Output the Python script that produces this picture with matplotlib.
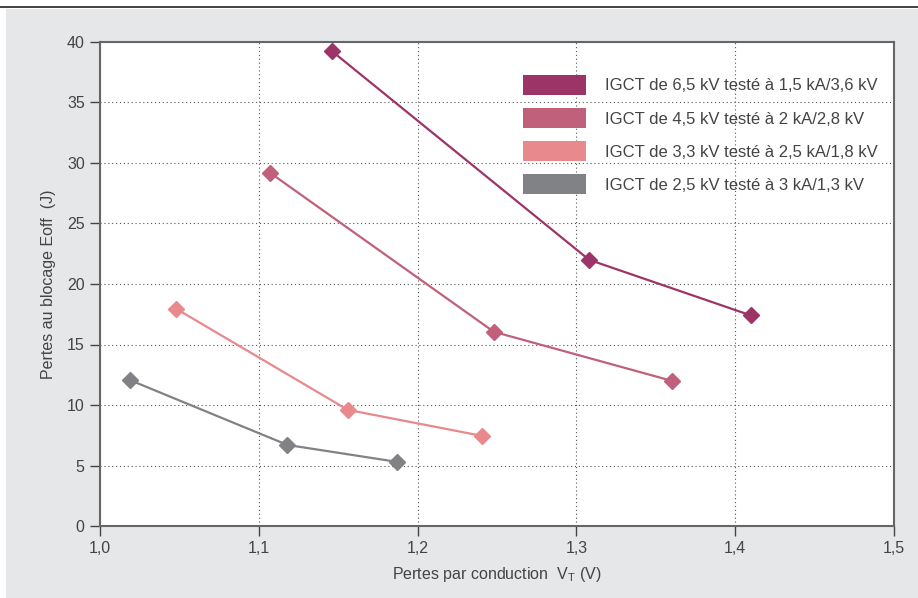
import matplotlib
matplotlib.use("Agg")
import matplotlib.pyplot as plt
from matplotlib.patches import Patch, Rectangle
from matplotlib.lines import Line2D

plt.rcParams['font.family'] = ['Liberation Sans', 'DejaVu Sans']

labels = [
    "IGCT de 6,5 kV testé à 1,5 kA/3,6 kV",
    "IGCT de 4,5 kV testé à 2 kA/2,8 kV",
    "IGCT de 3,3 kV testé à 2,5 kA/1,8 kV",
    "IGCT de 2,5 kV testé à 3 kA/1,3 kV",
]
colors = ["#9c3468", "#c0607a", "#e8898d", "#808285"]

x_65 = [1.146, 1.308, 1.410]
y_65 = [39.25, 22.0, 17.4]
x_45 = [1.107, 1.248, 1.360]
y_45 = [29.2, 16.05, 12.0]
x_33 = [1.048, 1.156, 1.2405]
y_33 = [17.95, 9.6, 7.45]
x_25 = [1.019, 1.118, 1.187]
y_25 = [12.05, 6.7, 5.3]

xs = [x_65, x_45, x_33, x_25]
ys = [y_65, y_45, y_33, y_25]

xticks = [1.0, 1.1, 1.2, 1.3, 1.4, 1.5]
xticklabels = ["1,0", "1,1", "1,2", "1,3", "1,4", "1,5"]
yticks = [0, 5, 10, 15, 20, 25, 30, 35, 40]

fig = plt.figure(figsize=(9.18, 5.98), dpi=100)
fig.patch.set_facecolor("white")
# gray panel
fig.patches.append(Rectangle((6/918, 0), 1 - 6/918, (598-9)/598, transform=fig.transFigure,
                             facecolor="#e6e7e8", edgecolor="none", zorder=-10))
fig.lines.append(Line2D([0, 1], [(598-7)/598]*2, transform=fig.transFigure, color="#222222", lw=1.2))

ax = fig.add_axes([100/918, (598-526)/598, (894-100)/918, (526-42)/598])
ax.set_facecolor("white")
ax.set_xlim(1.0, 1.5)
ax.set_ylim(0, 40)

ax.set_xticks(xticks)
ax.set_xticklabels(xticklabels)
ax.set_yticks(yticks)

ax.grid(True, linestyle=(0, (1, 2.5)), color="#555555", linewidth=0.8)
ax.set_axisbelow(True)

for s in ax.spines.values():
    s.set_color("#666666")
    s.set_linewidth(1.5)

ax.tick_params(axis="both", direction="out", length=7, width=1.0, color="#444444",
               labelcolor="#444444", labelsize=11.5)
ax.tick_params(axis="x", pad=4)
ax.tick_params(axis="y", pad=4)

for x, y, c in zip(xs, ys, colors):
    ax.plot(x, y, color=c, lw=1.6, marker="D", markersize=8, markeredgecolor=c,
            markerfacecolor=c, zorder=3, clip_on=False)

ax.set_xlabel("Pertes par conduction  V$_\\mathregular{T}$ (V)", color="#444444", fontsize=11.5, labelpad=6)
ax.set_ylabel("Pertes au blocage Eoff  (J)", color="#444444", fontsize=11.5, labelpad=8)

handles = [Patch(facecolor=c, edgecolor="none") for c in colors]
leg = ax.legend(handles, labels, loc="upper left", bbox_to_anchor=((523-100)/794, (526-75)/484),
                frameon=False, fontsize=12, handlelength=3.75, handleheight=1.45,
                handletextpad=1.15, labelspacing=0.8, borderpad=0, borderaxespad=0)
for t in leg.get_texts():
    t.set_color("#444444")

fig.savefig("out.png", dpi=100)
